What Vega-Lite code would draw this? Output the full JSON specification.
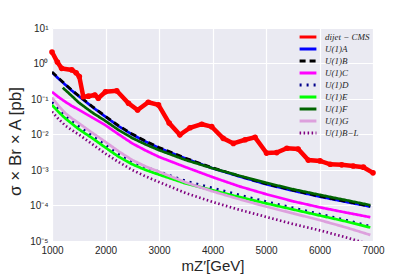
{
 "$schema": "https://vega.github.io/schema/vega-lite/v6.json",
 "width": 321, "height": 213,
 "autosize": {"type": "none"},
 "padding": {"left": 52, "top": 28, "right": 42, "bottom": 36},
 "background": "white",
 "config": {
  "view": {"fill": "#EAEAF2", "stroke": null},
  "axis": {"domain": false, "ticks": false, "gridColor": "white", "gridWidth": 1.2, "labelFlush": false, "labelFont": "Liberation Sans", "labelFontSize": 10, "labelColor": "#262626", "titleColor": "#262626", "titleFontWeight": "normal", "titleFont": "Liberation Sans"}
 },
 "data": {"values": [
  {"s":"dijet − CMS","m":1000,"y":2.1},{"s":"dijet − CMS","m":1100,"y":1.1},{"s":"dijet − CMS","m":1180,"y":0.73},{"s":"dijet − CMS","m":1370,"y":0.66},{"s":"dijet − CMS","m":1450,"y":0.55},{"s":"dijet − CMS","m":1510,"y":0.43},{"s":"dijet − CMS","m":1585,"y":0.116},{"s":"dijet − CMS","m":1680,"y":0.12},{"s":"dijet − CMS","m":1800,"y":0.13},{"s":"dijet − CMS","m":1865,"y":0.105},{"s":"dijet − CMS","m":2000,"y":0.16},{"s":"dijet − CMS","m":2210,"y":0.17},{"s":"dijet − CMS","m":2430,"y":0.076},{"s":"dijet − CMS","m":2600,"y":0.049},{"s":"dijet − CMS","m":2800,"y":0.081},{"s":"dijet − CMS","m":2990,"y":0.068},{"s":"dijet − CMS","m":3190,"y":0.021},{"s":"dijet − CMS","m":3390,"y":0.0098},{"s":"dijet − CMS","m":3580,"y":0.0155},{"s":"dijet − CMS","m":3800,"y":0.0195},{"s":"dijet − CMS","m":3985,"y":0.0166},{"s":"dijet − CMS","m":4200,"y":0.0078},{"s":"dijet − CMS","m":4390,"y":0.0056},{"s":"dijet − CMS","m":4610,"y":0.0071},{"s":"dijet − CMS","m":4795,"y":0.0083},{"s":"dijet − CMS","m":5010,"y":0.003},{"s":"dijet − CMS","m":5200,"y":0.0031},{"s":"dijet − CMS","m":5390,"y":0.0041},{"s":"dijet − CMS","m":5600,"y":0.0039},{"s":"dijet − CMS","m":5790,"y":0.0019},{"s":"dijet − CMS","m":6010,"y":0.0018},{"s":"dijet − CMS","m":6200,"y":0.00145},{"s":"dijet − CMS","m":6415,"y":0.0014},{"s":"dijet − CMS","m":6630,"y":0.0013},{"s":"dijet − CMS","m":6820,"y":0.0012},{"s":"dijet − CMS","m":7000,"y":0.00083},

  {"s":"U(1)A","m":1000,"y":0.5623},{"s":"U(1)A","m":1125,"y":0.3715},{"s":"U(1)A","m":1250,"y":0.2512},{"s":"U(1)A","m":1375,"y":0.1698},{"s":"U(1)A","m":1500,"y":0.1202},{"s":"U(1)A","m":1750,"y":0.06026},{"s":"U(1)A","m":2000,"y":0.03162},{"s":"U(1)A","m":2250,"y":0.01698},{"s":"U(1)A","m":2500,"y":0.01},{"s":"U(1)A","m":2750,"y":0.00631},{"s":"U(1)A","m":3000,"y":0.00417},{"s":"U(1)A","m":3500,"y":0.00209},{"s":"U(1)A","m":4000,"y":0.00112},{"s":"U(1)A","m":4500,"y":0.000661},{"s":"U(1)A","m":5000,"y":0.000398},{"s":"U(1)A","m":5500,"y":0.000263},{"s":"U(1)A","m":6000,"y":0.000178},{"s":"U(1)A","m":6500,"y":0.000126},{"s":"U(1)A","m":6950,"y":0.0000933},

  {"s":"U(1)B","m":1000,"y":0.579},{"s":"U(1)B","m":1125,"y":0.383},{"s":"U(1)B","m":1250,"y":0.259},{"s":"U(1)B","m":1375,"y":0.175},{"s":"U(1)B","m":1500,"y":0.124},{"s":"U(1)B","m":1750,"y":0.0621},{"s":"U(1)B","m":2000,"y":0.0326},{"s":"U(1)B","m":2250,"y":0.0175},{"s":"U(1)B","m":2500,"y":0.0103},{"s":"U(1)B","m":2750,"y":0.0065},{"s":"U(1)B","m":3000,"y":0.0043},{"s":"U(1)B","m":3500,"y":0.00215},{"s":"U(1)B","m":4000,"y":0.00115},{"s":"U(1)B","m":4500,"y":0.000681},{"s":"U(1)B","m":5000,"y":0.00041},{"s":"U(1)B","m":5500,"y":0.000271},{"s":"U(1)B","m":6000,"y":0.000183},{"s":"U(1)B","m":6500,"y":0.00013},{"s":"U(1)B","m":6950,"y":0.0000961},

  {"s":"U(1)C","m":1000,"y":0.1585},{"s":"U(1)C","m":1125,"y":0.1122},{"s":"U(1)C","m":1250,"y":0.0832},{"s":"U(1)C","m":1375,"y":0.0631},{"s":"U(1)C","m":1500,"y":0.0501},{"s":"U(1)C","m":1750,"y":0.0302},{"s":"U(1)C","m":2000,"y":0.0182},{"s":"U(1)C","m":2250,"y":0.01},{"s":"U(1)C","m":2500,"y":0.00562},{"s":"U(1)C","m":2750,"y":0.00355},{"s":"U(1)C","m":3000,"y":0.00234},{"s":"U(1)C","m":3500,"y":0.0012},{"s":"U(1)C","m":4000,"y":0.000631},{"s":"U(1)C","m":4500,"y":0.000347},{"s":"U(1)C","m":5000,"y":0.000209},{"s":"U(1)C","m":5500,"y":0.000132},{"s":"U(1)C","m":6000,"y":0.0000891},{"s":"U(1)C","m":6500,"y":0.0000631},{"s":"U(1)C","m":6950,"y":0.0000468},

  {"s":"U(1)D","m":1000,"y":0.0813},{"s":"U(1)D","m":1125,"y":0.0513},{"s":"U(1)D","m":1250,"y":0.0339},{"s":"U(1)D","m":1375,"y":0.024},{"s":"U(1)D","m":1500,"y":0.017},{"s":"U(1)D","m":1750,"y":0.00955},{"s":"U(1)D","m":2000,"y":0.00513},{"s":"U(1)D","m":2250,"y":0.00282},{"s":"U(1)D","m":2500,"y":0.00174},{"s":"U(1)D","m":2750,"y":0.0012},{"s":"U(1)D","m":3000,"y":0.000891},{"s":"U(1)D","m":3500,"y":0.00049},{"s":"U(1)D","m":4000,"y":0.000309},{"s":"U(1)D","m":4500,"y":0.000197},{"s":"U(1)D","m":5000,"y":0.000129},{"s":"U(1)D","m":5500,"y":0.0000861},{"s":"U(1)D","m":6000,"y":0.0000575},{"s":"U(1)D","m":6500,"y":0.0000385},{"s":"U(1)D","m":6950,"y":0.0000257},

  {"s":"U(1)E","m":1000,"y":0.0676},{"s":"U(1)E","m":1125,"y":0.0427},{"s":"U(1)E","m":1250,"y":0.0282},{"s":"U(1)E","m":1375,"y":0.02},{"s":"U(1)E","m":1500,"y":0.0141},{"s":"U(1)E","m":1750,"y":0.00794},{"s":"U(1)E","m":2000,"y":0.00427},{"s":"U(1)E","m":2250,"y":0.00234},{"s":"U(1)E","m":2500,"y":0.00145},{"s":"U(1)E","m":2750,"y":0.001},{"s":"U(1)E","m":3000,"y":0.000741},{"s":"U(1)E","m":3500,"y":0.000417},{"s":"U(1)E","m":4000,"y":0.000269},{"s":"U(1)E","m":4500,"y":0.000174},{"s":"U(1)E","m":5000,"y":0.000115},{"s":"U(1)E","m":5500,"y":0.0000776},{"s":"U(1)E","m":6000,"y":0.0000525},{"s":"U(1)E","m":6500,"y":0.0000355},{"s":"U(1)E","m":6950,"y":0.000024},

  {"s":"U(1)F","m":1200,"y":0.209},{"s":"U(1)F","m":1375,"y":0.12},{"s":"U(1)F","m":1500,"y":0.0794},{"s":"U(1)F","m":1750,"y":0.0417},{"s":"U(1)F","m":2000,"y":0.024},{"s":"U(1)F","m":2250,"y":0.0132},{"s":"U(1)F","m":2500,"y":0.00794},{"s":"U(1)F","m":2750,"y":0.00525},{"s":"U(1)F","m":3000,"y":0.00363},{"s":"U(1)F","m":3500,"y":0.00191},{"s":"U(1)F","m":4000,"y":0.00112},{"s":"U(1)F","m":4500,"y":0.000692},{"s":"U(1)F","m":5000,"y":0.000437},{"s":"U(1)F","m":5500,"y":0.000288},{"s":"U(1)F","m":6000,"y":0.0002},{"s":"U(1)F","m":6500,"y":0.000141},{"s":"U(1)F","m":6950,"y":0.000102},

  {"s":"U(1)G","m":1000,"y":0.1096},{"s":"U(1)G","m":1125,"y":0.0631},{"s":"U(1)G","m":1250,"y":0.0398},{"s":"U(1)G","m":1375,"y":0.0282},{"s":"U(1)G","m":1500,"y":0.0209},{"s":"U(1)G","m":1750,"y":0.01122},{"s":"U(1)G","m":2000,"y":0.00617},{"s":"U(1)G","m":2250,"y":0.00331},{"s":"U(1)G","m":2500,"y":0.00191},{"s":"U(1)G","m":2750,"y":0.00126},{"s":"U(1)G","m":3000,"y":0.000891},{"s":"U(1)G","m":3500,"y":0.000447},{"s":"U(1)G","m":4000,"y":0.000251},{"s":"U(1)G","m":4500,"y":0.000151},{"s":"U(1)G","m":5000,"y":0.0000933},{"s":"U(1)G","m":5500,"y":0.0000603},{"s":"U(1)G","m":6000,"y":0.0000389},{"s":"U(1)G","m":6500,"y":0.000024},{"s":"U(1)G","m":6950,"y":0.0000148},

  {"s":"U(1)B−L","m":1000,"y":0.0437},{"s":"U(1)B−L","m":1125,"y":0.0269},{"s":"U(1)B−L","m":1250,"y":0.0178},{"s":"U(1)B−L","m":1375,"y":0.0132},{"s":"U(1)B−L","m":1500,"y":0.01},{"s":"U(1)B−L","m":1750,"y":0.00537},{"s":"U(1)B−L","m":2000,"y":0.00288},{"s":"U(1)B−L","m":2250,"y":0.00166},{"s":"U(1)B−L","m":2500,"y":0.001},{"s":"U(1)B−L","m":2750,"y":0.000661},{"s":"U(1)B−L","m":3000,"y":0.000457},{"s":"U(1)B−L","m":3500,"y":0.000224},{"s":"U(1)B−L","m":4000,"y":0.000126},{"s":"U(1)B−L","m":4500,"y":0.0000759},{"s":"U(1)B−L","m":5000,"y":0.0000479},{"s":"U(1)B−L","m":5500,"y":0.0000302},{"s":"U(1)B−L","m":6000,"y":0.00002},{"s":"U(1)B−L","m":6500,"y":0.0000126},{"s":"U(1)B−L","m":6950,"y":0.00000794}
 ]},
 "layer": [
  {
   "mark": {"type": "line", "clip": true, "strokeWidth": 2.7},
   "encoding": {
    "x": {"field": "m", "type": "quantitative", "scale": {"domain": [1000, 7000], "nice": false, "zero": false},
          "axis": {"values": [1000, 2000, 3000, 4000, 5000, 6000, 7000], "format": "d", "labelPadding": 4, "title": "mZ′[GeV]", "titleFontSize": 15, "titlePadding": 3}},
    "y": {"field": "y", "type": "quantitative", "scale": {"type": "log", "domain": [0.00001, 10], "nice": false},
          "axis": {"values": [0.00001, 0.0001, 0.001, 0.01, 0.1, 1, 10], "labelPadding": 4,
                   "labelExpr": "'10' + ({'1':'¹','0':'⁰','-1':'⁻¹','-2':'⁻²','-3':'⁻³','-4':'⁻⁴','-5':'⁻⁵'})[''+round(log(datum.value)/LN10)]",
                   "title": "σ × Br × A [pb]", "titleFontSize": 17, "titlePadding": 5, "titleY": 113}},
    "color": {"field": "s", "type": "nominal",
              "scale": {"domain": ["dijet − CMS","U(1)A","U(1)B","U(1)C","U(1)D","U(1)E","U(1)F","U(1)G","U(1)B−L"],
                        "range": ["#ff0000","#0000ff","#000000","#ff00ff","#00008b","#00ff00","#006400","#dda0dd","#800080"]},
              "legend": {"title": null, "orient": "none", "legendX": 251, "legendY": 4, "symbolType": "M-2.4,0L2.4,0", "symbolSize": 49, "symbolStrokeWidth": 3,
                         "labelFont": "Liberation Serif", "labelFontStyle": "italic", "labelFontSize": 9, "labelColor": "#262626", "rowPadding": 0, "labelOffset": 12}},
    "strokeDash": {"field": "s", "type": "nominal",
              "scale": {"domain": ["dijet − CMS","U(1)A","U(1)B","U(1)C","U(1)D","U(1)E","U(1)F","U(1)G","U(1)B−L"],
                        "range": [[1,0],[1,0],[6,4],[1,0],[2,5],[1,0],[1,0],[1,0],[1.5,2.5]]}}
   }
  },
  {
   "transform": [{"filter": "datum.s == 'dijet − CMS'"}],
   "mark": {"type": "line", "strokeWidth": 4.5, "color": "#ff0000"},
   "encoding": {
    "x": {"field": "m", "type": "quantitative"},
    "y": {"field": "y", "type": "quantitative"}
   }
  },
  {
   "transform": [{"filter": "datum.s == 'dijet − CMS'"}],
   "mark": {"type": "point", "filled": true, "size": 32, "opacity": 1, "color": "#ff0000"},
   "encoding": {
    "x": {"field": "m", "type": "quantitative"},
    "y": {"field": "y", "type": "quantitative"}
   }
  }
 ]
}
